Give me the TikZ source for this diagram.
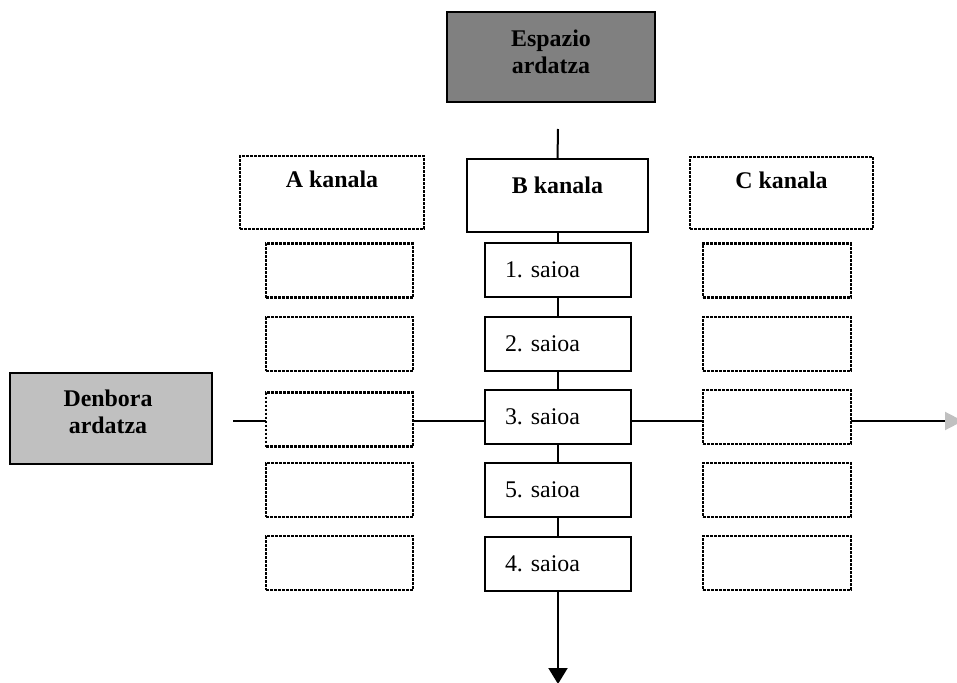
\documentclass[tikz,border=0pt]{standalone}
\usepackage{fontspec}
\setmainfont{Liberation Serif}
\usetikzlibrary{arrows.meta}
\definecolor{darkbox}{HTML}{808080}
\definecolor{lightbox}{HTML}{C0C0C0}
\frenchspacing
\begin{document}
\begin{tikzpicture}[x=1bp,y=-1bp,
  box/.style={draw=black, line width=2bp, fill=white, inner sep=0pt, outer sep=0pt},
  dotbox/.style={draw=black, line width=2.6bp, dash pattern=on 2.6bp off 1.4bp, fill=white, inner sep=0pt, outer sep=0pt},
  chanbox/.style={dotbox, minimum width=147bp, minimum height=54bp},
  sessbox/.style={box, minimum width=146bp, minimum height=54bp, text width=106bp, inner xsep=20bp, align=left, font=\fontsize{24}{27}\selectfont\frenchspacing},
  btxt/.style={font=\fontsize{24}{27}\selectfont\bfseries, align=center, inner sep=0pt},
  conn/.style={draw=black, line width=2bp}
]
\useasboundingbox (0,0) rectangle (957,683);
\clip (0,0) rectangle (957,683);

% axis boxes
\node[box, fill=darkbox, minimum width=208bp, minimum height=90bp] (esp) at (551,57) {};
\node[btxt] (espt) at (551,52) {Espazio\\ardatza};
\node[box, fill=lightbox, minimum width=202bp, minimum height=91bp] (den) at (111,418.5) {};
\node[btxt] (dent) at (108,412) {Denbora\\ardatza};

% channel headers
\node[dotbox, minimum width=184bp, minimum height=73bp] (A) at (332,192.5) {};
\node[btxt, anchor=base] (At) at (332,188) {A kanala};
\node[box, minimum width=181bp, minimum height=73bp] (B) at (557.5,195.5) {};
\node[btxt, anchor=base] (Bt) at (557.5,193) {B kanala};
\node[dotbox, minimum width=183bp, minimum height=72bp] (C) at (781.5,193) {};
\node[btxt, anchor=base] (Ct) at (781.5,189) {C kanala};

% left column
\node[chanbox] (l1) at (339.5,270.5) {};
\node[chanbox] (l2) at (339.5,344) {};
\node[chanbox] (l3) at (339.5,419.5) {};
\node[chanbox] (l4) at (339.5,490) {};
\node[chanbox] (l5) at (339.5,563) {};

% right column
\node[chanbox, minimum width=148bp] (r1) at (777,270.5) {};
\node[chanbox, minimum width=148bp] (r2) at (777,344) {};
\node[chanbox, minimum width=148bp] (r3) at (777,417) {};
\node[chanbox, minimum width=148bp] (r4) at (777,490) {};
\node[chanbox, minimum width=148bp] (r5) at (777,563) {};

% sessions
\node[sessbox] (s1) at (558,270) {1. saioa};
\node[sessbox] (s2) at (558,344) {2. saioa};
\node[sessbox] (s3) at (558,416.5) {3. saioa};
\node[sessbox] (s5) at (558,490) {5. saioa};
\node[sessbox] (s4) at (558,563.5) {4. saioa};

% vertical axis
\coordinate (vtop) at (558,129);
\coordinate (vend) at (558,684);
\draw[conn] (vtop) -- (B.north);
\draw[conn] (B.south) -- (B.south |- s1.north);
\draw[conn] (s1) -- (s2);
\draw[conn] (s2) -- (s3);
\draw[conn] (s3) -- (s5);
\draw[conn] (s5) -- (s4);
\draw[conn, -{Triangle[length=16bp,width=19bp]}] (s4.south) -- (vend);

% horizontal axis
\coordinate (hstart) at (233,421);
\coordinate (hend) at (963,421);
\draw[conn] (hstart) -- (hstart -| l3.west);
\draw[conn] (hstart -| l3.east) -- (hstart -| s3.west);
\draw[conn] (hstart -| s3.east) -- (hstart -| r3.west);
\draw[conn, -{Triangle[length=18bp,width=18bp,color=lightbox]}] (hstart -| r3.east) -- (hend);
\end{tikzpicture}
\end{document}
